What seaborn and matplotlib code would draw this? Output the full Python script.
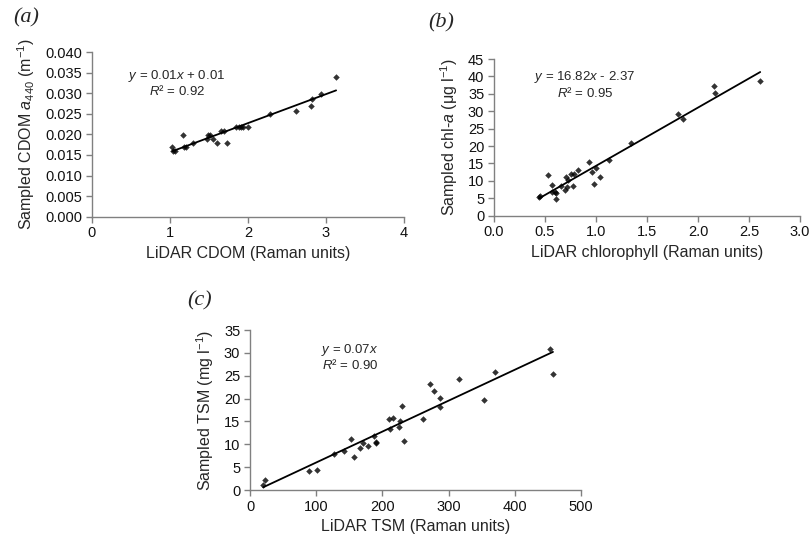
import matplotlib
matplotlib.use("Agg")
import matplotlib.pyplot as plt
import seaborn as sns
import numpy as np
import pandas as pd

# ---- data ----
a_x = [1.03, 1.04, 1.06, 1.17, 1.18, 1.20, 1.29, 1.48, 1.49, 1.51, 1.55, 1.60, 1.66,
       1.69, 1.73, 1.84, 1.885, 1.91, 1.94, 2.00, 2.28, 2.61, 2.81, 2.82, 2.94, 3.13]
a_y = [0.0169, 0.0160, 0.0159, 0.0199, 0.0169, 0.0170, 0.0178, 0.0190, 0.0199, 0.0199,
       0.0189, 0.0178, 0.0209, 0.0209, 0.0178, 0.0219, 0.0219, 0.0219, 0.0219, 0.0219,
       0.0249, 0.0258, 0.0268, 0.0287, 0.0298, 0.0339]

b_x = [0.44, 0.45, 0.53, 0.57, 0.57, 0.60, 0.61, 0.61, 0.66, 0.70, 0.71, 0.72, 0.73, 0.75,
       0.77, 0.78, 0.82, 0.93, 0.96, 0.98, 1.00, 1.04, 1.13, 1.34, 1.80, 1.85, 2.16, 2.17, 2.61]
b_y = [5.5, 5.7, 11.8, 8.8, 6.8, 6.9, 6.4, 4.9, 8.5, 7.4, 11.2, 8.3, 10.4, 11.9,
       8.6, 12.0, 13.1, 15.4, 12.6, 9.0, 13.8, 11.2, 16.1, 20.8, 29.1, 27.8, 37.3, 35.2, 38.7]

c_x = [20, 22.7, 89.7, 101.8, 126.4, 142, 153, 157, 166.7, 170, 178, 187, 190, 191, 209.6,
       211.6, 215.6, 224.7, 226, 229, 232.7, 261.5, 271.5, 278, 287.6, 287.6, 316, 354,
       370.8, 453, 457.7]
c_y = [1.0, 2.2, 4.2, 4.4, 7.8, 8.5, 11.2, 7.3, 9.1, 10.2, 9.6, 11.9, 10.6, 10.2, 15.5,
       13.4, 15.8, 13.8, 15.1, 18.3, 10.7, 15.6, 23.3, 21.7, 20.2, 18.1, 24.2, 19.7,
       25.8, 30.9, 25.4]

a_xticks = [0, 1, 2, 3, 4]
a_yticks = [0.000, 0.005, 0.010, 0.015, 0.020, 0.025, 0.030, 0.035, 0.040]
b_xticks = [0.0, 0.5, 1.0, 1.5, 2.0, 2.5, 3.0]
b_yticks = [0, 5, 10, 15, 20, 25, 30, 35, 40, 45]
c_xticks = [0, 100, 200, 300, 400, 500]
c_yticks = [0, 5, 10, 15, 20, 25, 30, 35]

sns.set_style("ticks")
plt.rcParams['font.family'] = ['Liberation Sans', 'DejaVu Sans']
plt.rcParams['mathtext.fontset'] = 'custom'
plt.rcParams['mathtext.rm'] = 'Liberation Sans'
plt.rcParams['mathtext.it'] = 'Liberation Sans:italic'
plt.rcParams['mathtext.bf'] = 'Liberation Sans:bold'

fig = plt.figure(figsize=(8.12, 5.42), dpi=100)
ax_a = fig.add_axes([0.1133, 0.6002, 0.3842, 0.3037])
ax_b = fig.add_axes([0.6084, 0.6020, 0.3768, 0.2891])
ax_c = fig.add_axes([0.3079, 0.0959, 0.4076, 0.2952])

spine_col = '#808080'
tick_fs = 10.5
label_fs = 11.5


def panel(ax, x, y, xt, yt, xlab, ylab, fmt_x, fmt_y, eq, r2, ex, ey1, ey2):
    df = pd.DataFrame({'x': x, 'y': y})
    sns.regplot(data=df, x='x', y='y', ax=ax, ci=None, truncate=True,
                marker='D', color='black',
                scatter_kws={'s': 11, 'linewidths': 0},
                line_kws={'color': 'black', 'linewidth': 1.3})
    ax.set_xlim(xt[0], xt[-1])
    ax.set_ylim(yt[0], yt[-1])
    ax.set_xticks(xt)
    ax.set_yticks(yt)
    ax.set_xticklabels([fmt_x.format(v) for v in xt], fontsize=tick_fs)
    ax.set_yticklabels([fmt_y.format(v) for v in yt], fontsize=tick_fs)
    ax.set_xlabel(xlab, fontsize=label_fs, labelpad=4)
    ax.set_ylabel(ylab, fontsize=label_fs, labelpad=6)
    for s in ['top', 'right']:
        ax.spines[s].set_visible(False)
    for s in ['left', 'bottom']:
        ax.spines[s].set_color(spine_col)
        ax.spines[s].set_linewidth(1.0)
    ax.tick_params(axis='both', direction='out', length=4, width=1.0,
                   color=spine_col, labelcolor='#111111', pad=3)
    ax.text(ex, ey1, eq, transform=ax.transAxes, ha='center', va='center', fontsize=9.5)
    ax.text(ex, ey2, r2, transform=ax.transAxes, ha='center', va='center', fontsize=9.5)


panel(ax_a, a_x, a_y, a_xticks, a_yticks, 'LiDAR CDOM (Raman units)',
      r'Sampled CDOM $a_{440}$ (m$^{-1}$)', '{:.0f}', '{:.3f}',
      r'$y$ = 0.01$x$ + 0.01', r'$R$² = 0.92', 0.272, 0.852, 0.762)
panel(ax_b, b_x, b_y, b_xticks, b_yticks, 'LiDAR chlorophyll (Raman units)',
      r'Sampled chl-$a$ (μg l$^{-1}$)', '{:.1f}', '{:.0f}',
      r'$y$ = 16.82$x$ - 2.37', r'$R$² = 0.95', 0.297, 0.888, 0.781)
panel(ax_c, c_x, c_y, c_xticks, c_yticks, 'LiDAR TSM (Raman units)',
      r'Sampled TSM (mg l$^{-1}$)', '{:.0f}', '{:.0f}',
      r'$y$ = 0.07$x$', r'$R$² = 0.90', 0.302, 0.876, 0.783)

for lab, px, py in [('(a)', 0.032, 0.967), ('(b)', 0.543, 0.957), ('(c)', 0.246, 0.444)]:
    fig.text(px, py, lab, family=['Liberation Serif', 'DejaVu Serif'], style='italic',
             fontsize=16, ha='center', va='center')

fig.savefig('out.png', dpi=100)
